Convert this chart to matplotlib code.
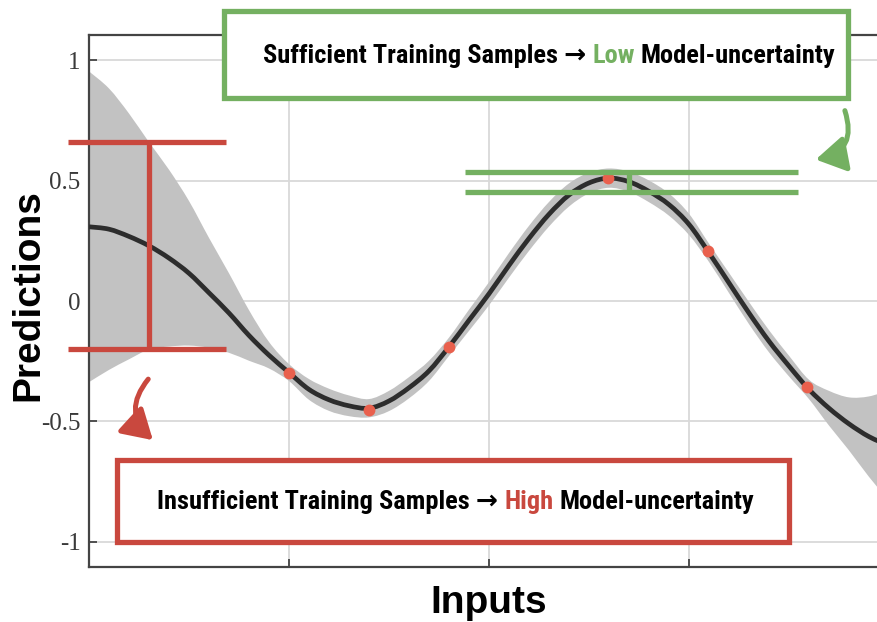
import matplotlib
matplotlib.use('Agg')
from matplotlib import pyplot as plt
from matplotlib.patches import Rectangle, FancyArrowPatch, PathPatch
from matplotlib.path import Path

# posterior mean and spread of the model along the inputs
x_vals = [0.0, 0.1, 0.2, 0.3, 0.4, 0.5, 0.6, 0.7, 0.8, 0.9,
          1.0, 1.1, 1.2, 1.3, 1.4, 1.5, 1.6, 1.7, 1.8, 1.9,
          2.0, 2.1, 2.2, 2.3, 2.4, 2.5, 2.6, 2.7, 2.8, 2.9,
          3.0, 3.1, 3.2, 3.3, 3.4, 3.5, 3.6, 3.7, 3.8, 3.9, 4.0]
mean_vals = [0.308, 0.298, 0.268, 0.229, 0.178, 0.115, 0.034, -0.05, -0.143, -0.225,
             -0.297, -0.367, -0.41, -0.435, -0.445, -0.415, -0.36, -0.29, -0.19, -0.08,
             0.03, 0.148, 0.26, 0.36, 0.44, 0.49, 0.51, 0.495, 0.455, 0.40,
             0.318, 0.20, 0.075, -0.05, -0.167, -0.27, -0.367, -0.445, -0.51, -0.563, -0.60]
std_vals = [0.645, 0.584, 0.51, 0.43, 0.367, 0.30, 0.228, 0.165, 0.105, 0.055,
            0.035, 0.043, 0.046, 0.043, 0.038, 0.042, 0.044, 0.042, 0.038, 0.044,
            0.048, 0.051, 0.052, 0.051, 0.048, 0.043, 0.04, 0.042, 0.045, 0.046,
            0.044, 0.038, 0.042, 0.046, 0.046, 0.043, 0.04, 0.072, 0.11, 0.167, 0.23]

# training samples
x_train = [1.0, 1.4, 1.8, 2.595, 3.095, 3.59]
y_train = [-0.299, -0.452, -0.191, 0.51, 0.207, -0.357]

x_ticks = [1, 2, 3]
y_ticks = [-1, -0.5, 0, 0.5, 1]
y_ticklabels = ['-1', '-0.5', '0', '0.5', '1']

high_parts = ['Insufficient Training Samples \u2192', 'High', 'Model-uncertainty']
low_parts = ['Sufficient Training Samples \u2192', 'Low', 'Model-uncertainty']

RED = '#c9483e'
GREEN = '#74b061'
DOT = '#e9604d'
W, H = 877, 622


def smooth(xs, ys):
    # cubic bezier segments through every point (catmull-rom tangents)
    verts = [(xs[0], ys[0])]
    codes = [Path.MOVETO]
    n = len(xs)
    for i in range(n - 1):
        a = max(i - 1, 0)
        b = min(i + 2, n - 1)
        c1 = (xs[i] + (xs[i + 1] - xs[a]) / 6, ys[i] + (ys[i + 1] - ys[a]) / 6)
        c2 = (xs[i + 1] - (xs[b] - xs[i]) / 6, ys[i + 1] - (ys[b] - ys[i]) / 6)
        verts += [c1, c2, (xs[i + 1], ys[i + 1])]
        codes += [Path.CURVE4] * 3
    return verts, codes


fig = plt.figure(figsize=(W / 100, H / 100), dpi=100)
ax = fig.add_axes([89 / W, 1 - 567 / H, 1 - 89 / W, (567 - 35) / H])

lower = [m - s for m, s in zip(mean_vals, std_vals)]
upper = [m + s for m, s in zip(mean_vals, std_vals)]

vu, cu = smooth(x_vals, upper)
vl, cl = smooth(x_vals[::-1], lower[::-1])
cl[0] = Path.LINETO
band = Path(vu + vl + [vu[0]], cu + cl + [Path.CLOSEPOLY])
ax.add_patch(PathPatch(band, facecolor='#c2c2c2', lw=0, zorder=2))

vm, cm = smooth(x_vals, mean_vals)
ax.add_patch(PathPatch(Path(vm, cm), fill=False, edgecolor='#2d2d2d', lw=3.4,
                       zorder=3, capstyle='butt'))
ax.plot(x_train, y_train, 'o', color=DOT, ms=8.5, mec='none', zorder=4)

ax.set_xlim(0, 3.94)
ax.set_ylim(-1.104, 1.104)
ax.set_xticks(x_ticks)
ax.set_xticklabels([])
ax.set_yticks(y_ticks)
ax.set_yticklabels(y_ticklabels, fontfamily='Liberation Serif', fontsize=18, color='#3a3a3a')
ax.tick_params(direction='in', length=6, width=1.3, color='#444444', pad=6)
ax.grid(True, color='#d9d9d9', lw=1.3, zorder=0)
ax.set_axisbelow(True)
for side in ['left', 'bottom', 'top']:
    ax.spines[side].set_color('#444444')
    ax.spines[side].set_linewidth(1.6)
ax.spines['right'].set_visible(False)

# error bars built from the band at two inputs
i_wide = x_vals.index(0.3)
i_narrow = x_vals.index(2.7)
for i, col, (xa, xb) in [(i_wide, RED, (-0.105, 0.685)), (i_narrow, GREEN, (1.88, 3.545))]:
    lo, hi = lower[i], upper[i]
    ax.plot([xa, xb], [hi, hi], color=col, lw=3.8, clip_on=False, zorder=6, solid_capstyle='butt')
    ax.plot([xa, xb], [lo, lo], color=col, lw=3.8, clip_on=False, zorder=6, solid_capstyle='butt')
    ax.plot([x_vals[i], x_vals[i]], [lo, hi], color=col, lw=3.8, zorder=6, solid_capstyle='butt')

fig.text(489 / W, 1 - 603 / H, 'Inputs', ha='center', va='center',
         fontfamily='Liberation Sans', fontweight='bold', fontsize=28)
fig.text(28 / W, 1 - 295 / H, 'Predictions', ha='center', va='center', rotation=90,
         fontfamily='Liberation Sans', fontweight='bold', fontsize=28)

font = dict(fontfamily=['Liberation Sans Narrow', 'Roboto Condensed', 'DejaVu Sans'],
            fontweight='bold', fontsize=19)
fig.canvas.draw()
renderer = fig.canvas.get_renderer()
p1 = fig.text(0, 0, 'x x', **font)
p2 = fig.text(0, 0, 'xx', **font)
gap = p1.get_window_extent(renderer).width - p2.get_window_extent(renderer).width
p1.remove()
p2.remove()


def label_box(x0, y0, x1, y1, parts, col, tx, ty):
    box = Rectangle((x0 / W, 1 - y1 / H), (x1 - x0) / W, (y1 - y0) / H,
                    transform=fig.transFigure, facecolor='white', edgecolor=col,
                    lw=3.8, zorder=10)
    fig.add_artist(box)
    x = tx
    for k, part in enumerate(parts):
        c = col if k == 1 else 'black'
        t = fig.text(x / W, 1 - ty / H, part, ha='left', va='baseline', color=c,
                     zorder=11, **font)
        x += t.get_window_extent(renderer).width + gap


label_box(224, 11, 848, 98, low_parts, GREEN, 263, 63)
label_box(117, 460, 789, 542, high_parts, RED, 157, 509)


def curved_arrow(p0, p1, col, rad):
    a = FancyArrowPatch((p0[0] / W, 1 - p0[1] / H), (p1[0] / W, 1 - p1[1] / H),
                        transform=fig.transFigure, connectionstyle='arc3,rad=%s' % rad,
                        arrowstyle='-|>,head_length=0.75,head_width=0.45', mutation_scale=24,
                        color=col, lw=3.6, zorder=10)
    fig.add_artist(a)


curved_arrow((844, 108), (813, 160), GREEN, -0.6)
curved_arrow((150, 377), (155, 442), RED, 0.5)

fig.savefig('out.png', dpi=100)
